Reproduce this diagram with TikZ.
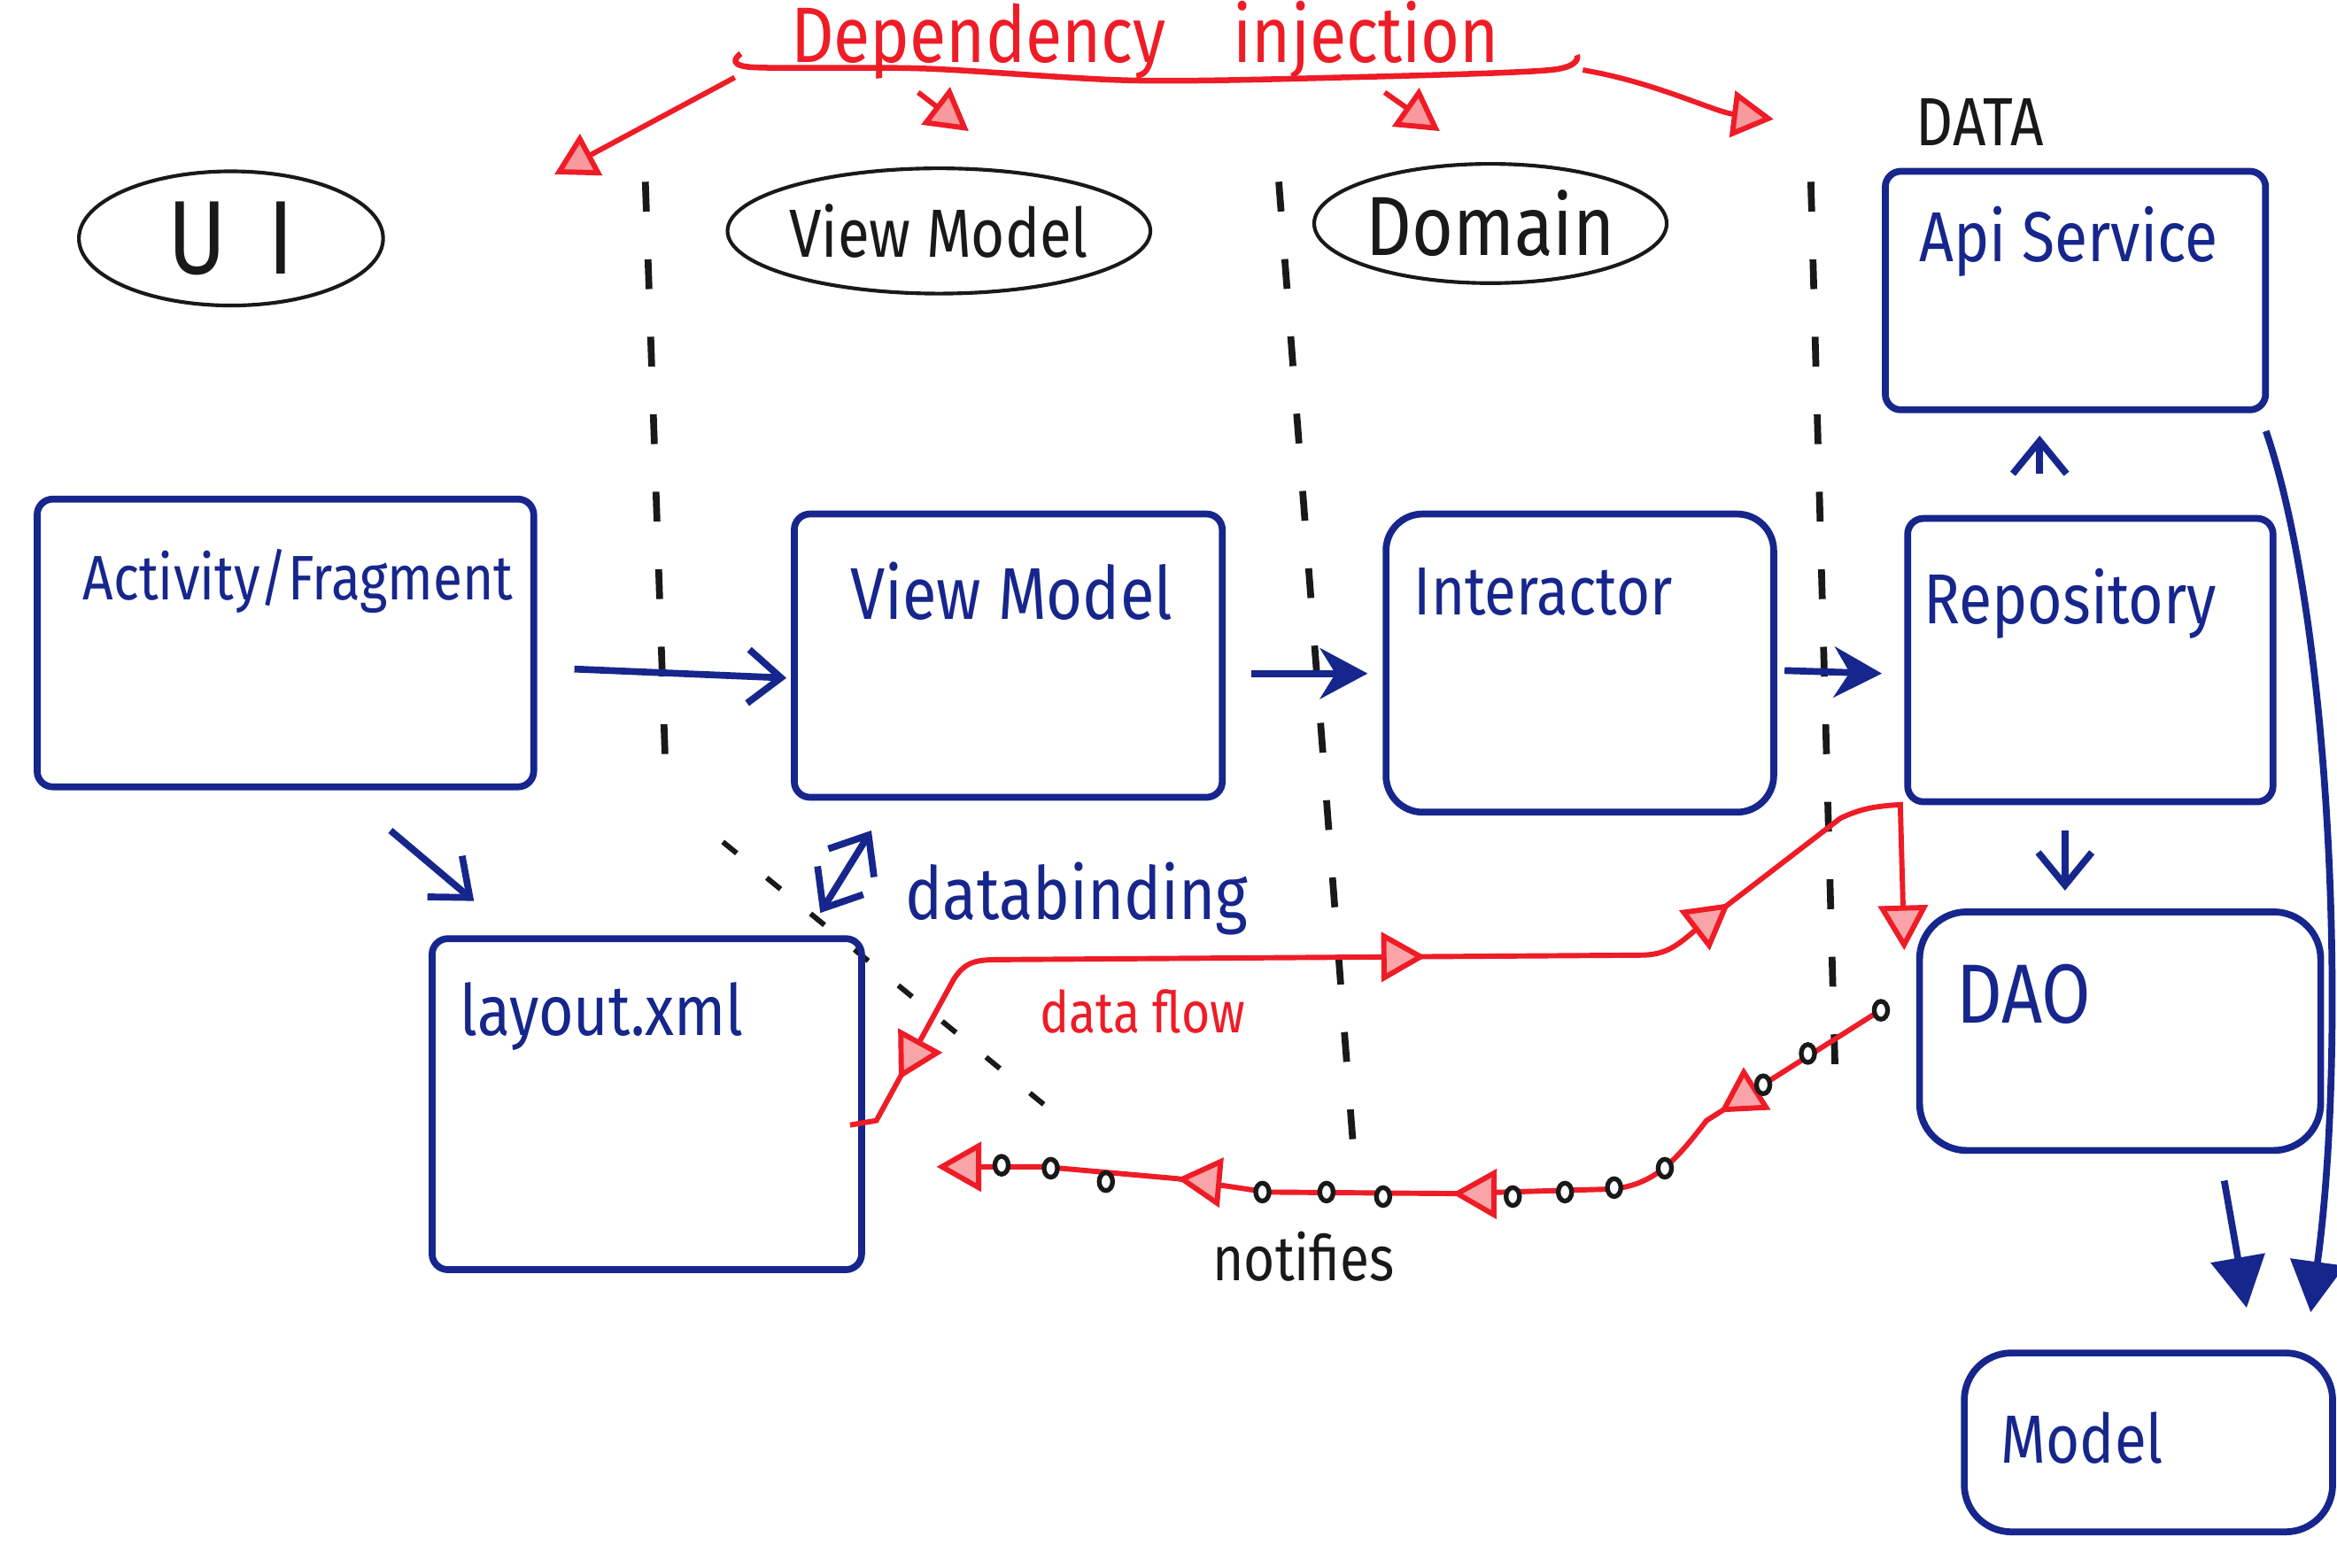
\documentclass[tikz,border=0pt]{standalone}
\usepackage{fontspec}
\setmainfont{Fira Sans}
\newfontfamily\hand[FakeStretch=0.85]{Fira Sans}
\usetikzlibrary{arrows.meta,shapes.geometric,decorations.markings,calc}
\definecolor{pen}{RGB}{22,38,140}
\definecolor{ink}{RGB}{238,28,38}
\definecolor{pencil}{RGB}{25,25,25}
\begin{document}
\begin{tikzpicture}[x=0.01cm,y=-0.01cm,
  box/.style={draw=pen, line width=1.3pt, rounded corners=3pt, inner sep=0pt},
  softbox/.style={box, rounded corners=9pt},
  bub/.style={ellipse, draw=pencil, line width=0.7pt, inner sep=0pt},
  fs/.style={font=\hand\fontsize{#1}{#1}\selectfont},
  lbl/.style={inner sep=0pt, anchor=west},
  barrow/.style={draw=pen, line width=1.3pt, -{Straight Barb[length=2.2mm,width=3.6mm]}},
  dbarrow/.style={draw=pen, line width=1.3pt, {Straight Barb[length=2.2mm,width=3.6mm]}-{Straight Barb[length=2.2mm,width=3.6mm]}},
  sarrow/.style={draw=pen, line width=1.3pt, -{Stealth[length=3.2mm,width=3.4mm]}},
  farrow/.style={draw=pen, line width=1.3pt, -{Triangle[length=3.4mm,width=3.6mm]}},
  sepline/.style={draw=pencil, line width=1.3pt, dash pattern=on 0.2cm off 0.32cm},
  diarrow/.style={draw=ink, line width=1pt, -{Triangle[length=2.8mm,width=3.1mm,fill=ink!45]}},
  redtip/.tip={Triangle[length=3mm,width=3.3mm,fill=ink!40]},
  flow/.style={draw=ink, line width=1pt},
  dot/.style={draw=pencil, line width=0.9pt, fill=white}
]
\fill[white] (0,0) rectangle (1568,1052);
\useasboundingbox (0,0) rectangle (1568,1052);

% ---- column headers
\node[bub, minimum width=2.04cm, minimum height=0.9cm, fs=20, text=pencil] (ui) at (155,160) {U\hspace{0.28cm}I};
\node[bub, minimum width=2.36cm, minimum height=0.84cm, fs=13, text=pencil] (vmh) at (630,155) {View Model};
\node[bub, minimum width=2.25cm, minimum height=0.80cm, fs=16, text=pencil] (domh) at (1000,150) {Domain};
\node[lbl, fs=13, text=pencil] (data) at (1285,82) {DATA};

% ---- dependency injection
\node[lbl, fs=15, text=ink] (di) at (530,27) {Dependency\hspace{0.45cm}injection};
\draw[ink, line width=1.1pt] plot[smooth] coordinates {(497,36) (503,45) (620,46) (760,54) (900,52) (1040,47) (1058,37)};
\coordinate (d1s) at (493,52);  \coordinate (d1e) at (372,117);
\coordinate (d2s) at (616,62);  \coordinate (d2e) at (650,88);
\coordinate (d3s) at (929,62);  \coordinate (d3e) at (966,88);
\coordinate (d4s) at (1062,47); \coordinate (d4e) at (1190,80);
\draw[diarrow] (d1s) -- (d1e);
\draw[diarrow] (d2s) -- (d2e);
\draw[diarrow] (d3s) -- (d3e);
\draw[diarrow] (d4s) .. controls (1110,55) and (1150,75) .. (d4e);

% ---- separators
\draw[sepline] (433,122) -- (447,530);
\draw[sepline] (858,122) -- (908,770);
\draw[sepline] (1215,122) -- (1232,745);
\draw[pencil, line width=1pt, dash pattern=on 0.12cm off 0.26cm] (485,565) -- (705,745);

% ---- boxes
\node[box, minimum width=3.33cm, minimum height=1.93cm] (act) at (191.5,431.5) {};
\node[box, minimum width=2.87cm, minimum height=1.90cm] (vm) at (676.5,440) {};
\node[box, minimum width=2.60cm, minimum height=2.00cm, rounded corners=7pt] (int) at (1060,445) {};
\node[box, minimum width=2.45cm, minimum height=1.90cm] (repo) at (1402.5,443) {};
\node[box, minimum width=2.55cm, minimum height=1.60cm] (api) at (1392.5,195) {};
\node[box, minimum width=2.88cm, minimum height=2.22cm] (layout) at (434,741) {};
\node[softbox, minimum width=2.69cm, minimum height=1.60cm] (dao) at (1422.5,692) {};
\node[softbox, minimum width=2.47cm, minimum height=1.20cm] (model) at (1441.5,968) {};

\node[lbl, fs=12, text=pen] (actT) at (55,390) {Activity/Fragment};
\node[lbl, fs=14, text=pen] (vmT) at (570,397) {View Model};
\node[lbl, fs=13, text=pen] (intT) at (948,397) {Interactor};
\node[lbl, fs=13.5, text=pen] (repoT) at (1290,405) {Repository};
\node[lbl, fs=13.5, text=pen] (apiT) at (1287,162) {Api Service};
\node[lbl, fs=13.5, text=pen] (layT) at (308,682) {layout.xml};
\node[lbl, fs=16, text=pen] (daoT) at (1312,667) {DAO};
\node[lbl, fs=13, text=pen] (modT) at (1342,965) {Model};

% ---- blue connectors
\draw[barrow] ($(act.east)+(25,17.5)$) -- ($(vm.west)+(-3,15)$);
\draw[sarrow] ($(vm.east)+(17,12)$) -- ($(int.west)+(-10,7)$);
\draw[sarrow] ($(int.east)+(5,5)$) -- ($(repo.west)+(-15,9)$);
\draw[barrow] ($(act.south)+(70.5,27)$) -- ($(layout.north)+(-116,-23)$);
\draw[dbarrow] ($(layout.north east)+(-30,-15)$) -- ($(vm.south west)+(54,20)$);
\draw[barrow] ($(repo.north)+(-34,-28)$) -- ($(api.south)+(-24,15)$);
\draw[barrow] ($(repo.south)+(-17,17)$) -- ($(dao.north)+(-37,-12)$);
\draw[farrow] ($(dao.south east)+(-67,18)$) -- ($(model.north east)+(-60,-28)$);
\draw[farrow] ($(api.south east)+(-2,12)$) .. controls (1565,420) and (1575,700) .. ($(model.north east)+(-17,-25)$);

\node[lbl, fs=14, text=pen] (dbT) at (607,603) {databinding};

% ---- data flow (red)
\draw[flow, -redtip, postaction={decorate}, decoration={markings,
    mark=at position 0.055 with {\arrowreversed{redtip}},
    mark=at position 0.5 with {\arrow{redtip}},
    mark=at position 0.74 with {\arrow{redtip}}}]
  ($(layout.east)+(-10,14)$) -- (588,752) -- (640,657)
  .. controls (648,645) and (655,644) .. (672,644) -- (1100,641)
  .. controls (1118,641) and (1125,635) .. (1140,622) -- (1235,549)
  .. controls (1250,542) and (1260,541) .. (1275,540)
  -- ($(dao.north west)+(-8,28)$);
\node[lbl, fs=11, text=ink] (dfT) at (697,679) {data flow};

% ---- notifies (red with dots)
\draw[flow, -redtip, postaction={decorate}, decoration={markings,
    mark=at position 0.19 with {\arrow{redtip}},
    mark=at position 0.485 with {\arrow{redtip}},
    mark=at position 0.76 with {\arrow{redtip}}}]
  ($(dao.west)+(-24,-14)$) -- (1145,752)
  .. controls (1125,778) and (1110,796) .. (1080,798)
  -- (975,801) -- (850,800) -- (790,791) -- (700,783)
  -- ($(layout.east)+(48,42)$);
\foreach \p in {(1262,678),(1213,707),(1183,728),(1117,784),(1083,797),(1050,800),(1015,803),(928,803),(890,800),(847,800),(742,793),(705,784),(672,782)}
  \draw[dot] \p ellipse[x radius=4.5, y radius=6];
\node[lbl, fs=12, text=pencil] (notT) at (813,843) {notifies};
\end{tikzpicture}
\end{document}
